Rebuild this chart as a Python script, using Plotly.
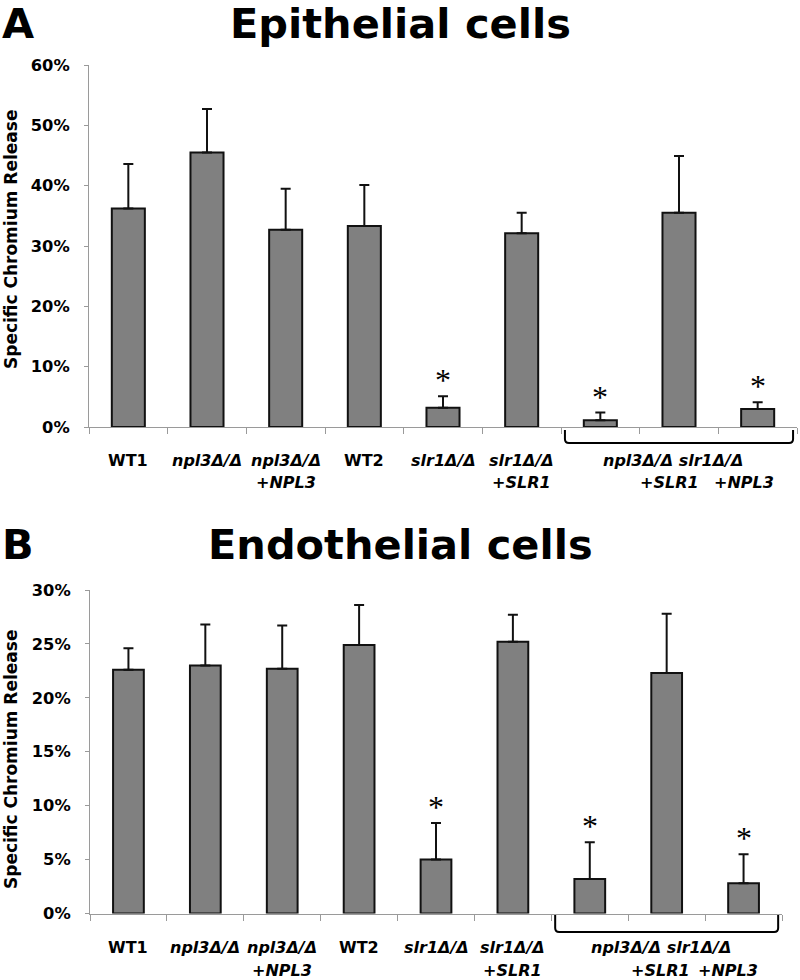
import plotly.graph_objects as go

categories = ["WT1", "npl3Δ/Δ", "npl3Δ/Δ +NPL3", "WT2", "slr1Δ/Δ", "slr1Δ/Δ +SLR1",
              "npl3Δ/Δ slr1Δ/Δ", "npl3Δ/Δ slr1Δ/Δ +SLR1", "npl3Δ/Δ slr1Δ/Δ +NPL3"]

epi_values = [36.2, 45.5, 32.7, 33.3, 3.2, 32.1, 1.1, 35.5, 3.0]
epi_errors = [7.4, 7.2, 6.8, 6.8, 1.9, 3.4, 1.3, 9.4, 1.1]

endo_values = [22.6, 23.0, 22.7, 24.9, 5.0, 25.2, 3.2, 22.3, 2.8]
endo_errors = [2.0, 3.8, 4.0, 3.7, 3.4, 2.5, 3.4, 5.5, 2.7]

significant = [False, False, False, False, True, False, True, False, True]

epi_ticks = [0, 10, 20, 30, 40, 50, 60]
endo_ticks = [0, 5, 10, 15, 20, 25, 30]

label_line1 = ["WT1", "npl3Δ/Δ", "npl3Δ/Δ", "WT2", "slr1Δ/Δ", "slr1Δ/Δ", "", "", ""]
label_line2 = ["", "", "+NPL3", "", "", "+SLR1", "", "+SLR1", "+NPL3"]
label_italic = [False, True, True, False, True, True, True, True, True]
group_label = "npl3Δ/Δ slr1Δ/Δ"

W, H = 800, 980
FONT = "DejaVu Sans, Verdana, sans-serif"


def py(pix):
    return 1 - pix / H


panels = [
    dict(title="Epithelial cells", letter="A", values=epi_values, errors=epi_errors,
         ticks=epi_ticks, xdom=[89 / W, 797 / W], ydom=[py(427), py(65)],
         title_y=24, lab1=460, lab2=482, br_top=430, br_bot=443,
         ytitle_y=240, xs=("x", "y"), width=0.42, sh2=[-10, -14], catw=78.7),
    dict(title="Endothelial cells", letter="B", values=endo_values, errors=endo_errors,
         ticks=endo_ticks, xdom=[90 / W, 782 / W], ydom=[py(913.5), py(590)],
         title_y=544, lab1=947, lab2=970, br_top=915, br_bot=932,
         ytitle_y=760, xs=("x2", "y2"), width=0.40, sh2=[-6, -16], catw=76.9),
]

fig = go.Figure()
annotations = []
shapes = []

for i, p in enumerate(panels):
    xa, ya = p["xs"]
    fig.add_trace(go.Bar(
        x=categories, y=p["values"], xaxis=xa, yaxis=ya,
        width=p["width"],
        marker=dict(color="#808080", line=dict(color="#111111", width=2)),
        error_y=dict(type="data", symmetric=False, array=p["errors"],
                     arrayminus=[0] * len(categories), color="#111111",
                     thickness=2, width=5),
        showlegend=False, hoverinfo="skip",
    ))
    axn = "" if i == 0 else "2"
    fig.update_layout(**{
        "xaxis" + axn: dict(domain=p["xdom"], anchor=ya, type="category",
                            categoryorder="array", categoryarray=categories,
                            range=[-0.5, 8.5], showline=True, linecolor="#9a9a9a",
                            linewidth=1, ticks="outside", tickson="boundaries",
                            ticklen=6, tickcolor="#9a9a9a", showticklabels=False,
                            showgrid=False, zeroline=False, fixedrange=True,
                            automargin=False),
        "yaxis" + axn: dict(domain=p["ydom"], anchor=xa, range=[0, p["ticks"][-1]],
                            tickmode="array", tickvals=p["ticks"],
                            ticktext=["<b>%d%%</b>" % t for t in p["ticks"]],
                            showline=True, linecolor="#9a9a9a", linewidth=1,
                            ticks="outside", ticklen=4, tickcolor="#9a9a9a",
                            showgrid=False, zeroline=False, ticklabelstandoff=11,
                            tickfont=dict(family=FONT, size=16.3, color="black"),
                            fixedrange=True, automargin=False),
    })

    # Panel letter and title
    annotations.append(dict(text="<b>%s</b>" % p["letter"], x=0, y=py(p["title_y"]),
                            xref="paper", yref="paper", xanchor="left", yanchor="middle",
                            showarrow=False, font=dict(family=FONT, size=41.5, color="black")))
    annotations.append(dict(text="<b>%s</b>" % p["title"], x=0.5, y=py(p["title_y"]),
                            xref="paper", yref="paper", xanchor="center", yanchor="middle",
                            showarrow=False, font=dict(family=FONT, size=41.5, color="black")))
    # y axis title
    annotations.append(dict(text="<b>Specific Chromium Release</b>", x=11 / W,
                            y=py(p["ytitle_y"]), xref="paper", yref="paper",
                            xanchor="center", yanchor="middle", textangle=-90,
                            showarrow=False, font=dict(family=FONT, size=17, color="black")))

    # category labels
    for k, cat in enumerate(categories):
        for txt, ypix, shift in ((label_line1[k], p["lab1"], 0), (label_line2[k], p["lab2"], 0)):
            if not txt:
                continue
            if k == 7 and txt == label_line2[7]:
                shift = p["sh2"][0]
            if k == 8 and txt == label_line2[8]:
                shift = p["sh2"][1]
            t = "<b><i>%s</i></b>" % txt if label_italic[k] else "<b>%s</b>" % txt
            annotations.append(dict(text=t, x=cat, y=py(ypix), xref=xa, yref="paper",
                                    xanchor="center", yanchor="middle", xshift=shift,
                                    showarrow=False,
                                    font=dict(family=FONT, size=16, color="black")))
    annotations.append(dict(text="<b><i>%s</i></b>" % group_label, x=categories[7],
                            y=py(p["lab1"]), xref=xa, yref="paper", xanchor="center",
                            yanchor="middle", xshift=-6, showarrow=False,
                            font=dict(family=FONT, size=16, color="black")))

    # significance stars
    for k, cat in enumerate(categories):
        if significant[k]:
            annotations.append(dict(text="*", x=cat, y=p["values"][k] + p["errors"][k],
                                    xref=xa, yref=ya, xanchor="center", yanchor="middle",
                                    yshift=16, showarrow=False,
                                    font=dict(family="Liberation Serif, Times New Roman, serif",
                                              size=32, color="black")))

    # bracket under the double mutant group (slightly rounded corners)
    x0, x1 = 5.55, 8.45
    yt, yb = py(p["br_top"]), py(p["br_bot"])
    rx = 4 / p["catw"]
    ry = 4 / H
    path = ("M %f,%f L %f,%f Q %f,%f %f,%f L %f,%f Q %f,%f %f,%f L %f,%f" %
            (x0, yt, x0, yb + ry, x0, yb, x0 + rx, yb, x1 - rx, yb, x1, yb, x1, yb + ry, x1, yt))
    shapes.append(dict(type="path", xref=xa, yref="paper", path=path,
                       line=dict(color="black", width=2)))

fig.update_layout(width=W, height=H, autosize=False,
                  margin=dict(l=0, r=0, t=0, b=0, pad=0),
                  paper_bgcolor="white", plot_bgcolor="white",
                  annotations=annotations, shapes=shapes, bargap=0.5)

fig.write_html("out.html", config={"displayModeBar": False},
               post_script="document.body.style.margin='0';")
